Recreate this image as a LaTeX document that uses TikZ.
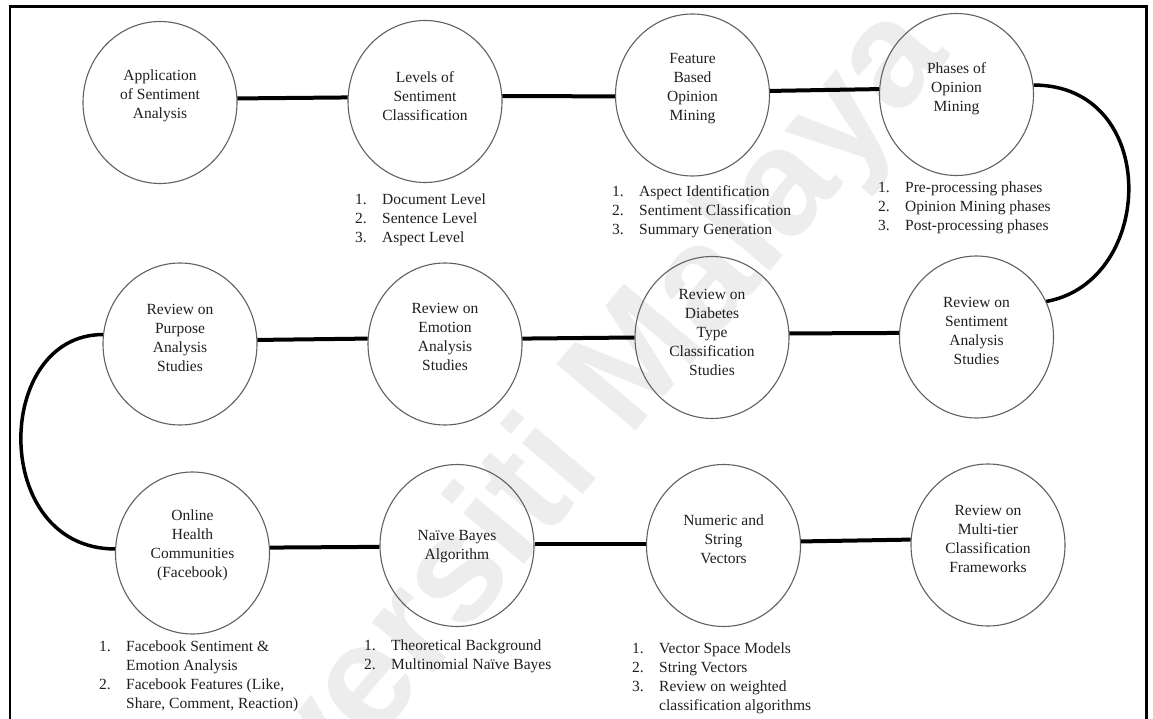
\documentclass[tikz,border=0pt]{standalone}
\usepackage{fontspec}
\setmainfont{Liberation Serif}
\newfontfamily\wmfont{Liberation Sans}
\usetikzlibrary{shapes.geometric,calc}

% numbered list set as a top-aligned table, so its baseline is the first item's
\newcommand\numlist[1]{\begin{tabular}[t]{@{}p{27pt}@{}l@{}}#1\end{tabular}}

\begin{document}
\begin{tikzpicture}[x=1pt,y=-1pt,
  bubble/.style={ellipse, draw=black!62, line width=1.1pt,
    minimum width=154pt, minimum height=162pt, inner sep=0pt},
  bubtext/.style={align=center, inner sep=0pt, text=black!88,
    font=\fontsize{15.5}{19}\selectfont},
  items/.style={anchor=base west, inner sep=0pt, text=black!88,
    font=\fontsize{15.5}{19}\selectfont},
  link/.style={line width=4pt, black},
  bendlink/.style={line width=3.5pt, black},
]
\useasboundingbox (0,0) rectangle (1153,719);
\fill[white] (0,0) rectangle (1153,719);

% faint background watermark
\node[rotate=50, text=black!7, inner sep=0pt,
  font=\wmfont\bfseries\fontsize{150}{150}\selectfont] (wm) at (528,500) {Universiti Malaya};

% outer frame (its lower edge runs below the page)
\draw[line width=2.6pt] (10,6.5) rectangle (1146.5,740);

% ---- first row
\node[bubble] (c1) at (160,102.5) {};
\node[bubble] (c2) at (425,101.5) {};
\node[bubble] (c3) at (692.5,95) {};
\node[bubble] (c4) at (956.5,94.5) {};
\node[bubtext] (t1) at (160,96) {Application\\of Sentiment\\Analysis};
\node[bubtext] (t2) at (425,96) {Levels of\\Sentiment\\Classification};
\node[bubtext] (t3) at (692.5,88.5) {Feature\\Based\\Opinion\\Mining};
\node[bubtext] (t4) at (956.5,89) {Phases of\\Opinion\\Mining};

% ---- second row
\node[bubble] (c5) at (180,344) {};
\node[bubble] (c6) at (445,344) {};
\node[bubble] (c7) at (712,337.5) {};
\node[bubble] (c8) at (976.5,337) {};
\node[bubtext] (t5) at (180,337.5) {Review on\\Purpose\\Analysis\\Studies};
\node[bubtext] (t6) at (445,337) {Review on\\Emotion\\Analysis\\Studies};
\node[bubtext] (t7) at (712,332.5) {Review on\\Diabetes\\Type\\Classification\\Studies};
\node[bubtext] (t8) at (976.5,330.5) {Review on\\Sentiment\\Analysis\\Studies};

% ---- third row
\node[bubble] (c9) at (192.5,553) {};
\node[bubble] (c10) at (457,545.5) {};
\node[bubble] (c11) at (723.5,545.5) {};
\node[bubble] (c12) at (988,545) {};
\node[bubtext] (t9) at (192.5,545.5) {Online\\Health\\Communities\\(Facebook)};
\node[bubtext] (t10) at (457,546.5) {Naïve Bayes\\Algorithm};
\node[bubtext] (t11) at (723.5,539) {Numeric and\\String\\Vectors};
\node[bubtext] (t12) at (988,538.5) {Review on\\Multi-tier\\Classification\\Frameworks};

% ---- numbered lists under the bubbles
\node[items] (l2) at (355,205) {\numlist{1.&Document Level\\2.&Sentence Level\\3.&Aspect Level}};
\node[items] (l3) at (612,197) {\numlist{1.&Aspect Identification\\2.&Sentiment Classification\\3.&Summary Generation}};
\node[items] (l4) at (878,193) {\numlist{1.&Pre-processing phases\\2.&Opinion Mining phases\\3.&Post-processing phases}};
\node[items] (l9) at (99,651) {\numlist{1.&Facebook Sentiment \&\\&Emotion Analysis\\2.&Facebook Features (Like,\\&Share, Comment, Reaction)}};
\node[items] (l10) at (364,650) {\numlist{1.&Theoretical Background\\2.&Multinomial Naïve Bayes}};
\node[items] (l11) at (632,653) {\numlist{1.&Vector Space Models\\2.&String Vectors\\3.&Review on weighted\\&classification algorithms}};

% ---- straight connectors
\draw[link] (c1.3) -- (c2.177.5);
\draw[link] (c2.4) -- (c3.181);
\draw[link] (c3.3.5) -- (c4.176.8);
\draw[link] (c5.3.5) -- (c6.176.5);
\draw[link] (c6.4.2) -- (c7.180);
\draw[link] (c7.3.2) -- (c8.177);
\draw[link] (c9.4.2) -- (c10.181);
\draw[link] (c10.1) -- (c11.179);
\draw[link] (c11.3.9) -- (c12.176.5);

% ---- row-to-row bends
\draw[bendlink] (c4.7) .. controls ($(c4.7)+(127,0)$) and ($(c8.27)+(110,-20)$) .. (c8.27);
\draw[bendlink] (c5.173) .. controls ($(c5.173)+(-110,0)$) and ($(c9.177)+(-125,0)$) .. (c9.177);
\end{tikzpicture}
\end{document}
